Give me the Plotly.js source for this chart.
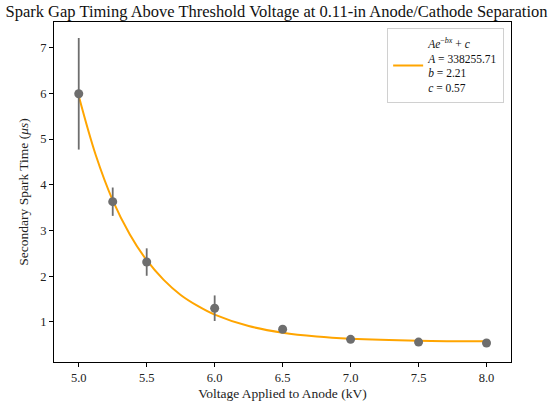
<!DOCTYPE html>
<html>
<head>
<meta charset="utf-8">
<script src="https://cdn.plot.ly/plotly-3.0.1.min.js"></script>
<style>html,body{margin:0;padding:0;background:#fff;}#plot{width:553px;height:409px;}</style>
</head>
<body>
<div id="plot"></div>
<script>
// Measured points
const voltage = [5.0, 5.25, 5.5, 6.0, 6.5, 7.0, 7.5, 8.0];
const sparkTime = [5.99, 3.63, 2.31, 1.30, 0.84, 0.62, 0.56, 0.54];
const sparkErr = [1.22, 0.31, 0.30, 0.28, 0.04, 0.03, 0.03, 0.03];

// Fit curve
const fitX = [5.0, 5.125, 5.25, 5.375, 5.5, 5.625, 5.75, 5.875, 6.0, 6.25, 6.5, 6.75, 7.0, 7.5, 8.0];
const fitY = [5.94, 4.65, 3.66, 2.92, 2.35, 1.92, 1.59, 1.35, 1.16, 0.91, 0.765, 0.682, 0.635, 0.591, 0.577];

const fitLabel = '<i>Ae</i><sup>−<i>bx</i></sup> + <i>c</i><br><i>A</i> = 338255.71<br><i>b</i> = 2.21<br><i>c</i> = 0.57';

const xTicks = [5.0, 5.5, 6.0, 6.5, 7.0, 7.5, 8.0];
const xTickText = ['5.0', '5.5', '6.0', '6.5', '7.0', '7.5', '8.0'];
const yTicks = [1, 2, 3, 4, 5, 6, 7];

const FONT = 'Liberation Serif, DejaVu Serif, serif';

const traces = [
  {
    x: fitX, y: fitY, mode: 'lines', type: 'scatter',
    line: {color: '#FFA500', width: 2, shape: 'spline'},
    name: fitLabel, showlegend: true, hoverinfo: 'skip'
  },
  {
    x: voltage, y: sparkTime, mode: 'markers', type: 'scatter',
    marker: {color: '#6e6e6e', size: 9},
    error_y: {type: 'data', array: sparkErr, visible: true, color: '#6e6e6e', thickness: 1.8, width: 0},
    showlegend: false
  }
];

const layout = {
  width: 553, height: 409,
  margin: {l: 54, r: 42, t: 22, b: 47},
  paper_bgcolor: '#fff', plot_bgcolor: '#fff',
  font: {family: FONT, color: '#222', size: 12},
  title: {text: 'Spark Gap Timing Above Threshold Voltage at 0.11-in Anode/Cathode Separation',
          font: {family: FONT, size: 16.5, color: '#111'}, x: 0.5, xref: 'container', xanchor: 'center', y: 0.972, yanchor: 'middle'},
  xaxis: {
    range: [4.818, 8.18], tickvals: xTicks, ticktext: xTickText,
    showgrid: false, zeroline: false, showline: true, linecolor: '#000', linewidth: 1, mirror: true,
    ticks: 'outside', ticklen: 4, tickcolor: '#000', tickwidth: 1,
    tickfont: {family: FONT, size: 12.5, color: '#222'},
    title: {text: 'Voltage Applied to Anode (kV)', font: {family: FONT, size: 13.5, color: '#222'}, standoff: 4}
  },
  yaxis: {
    range: [0.124, 7.56], tickvals: yTicks,
    showgrid: false, zeroline: false, showline: true, linecolor: '#000', linewidth: 1, mirror: true,
    ticks: 'outside', ticklen: 4, tickcolor: '#000', tickwidth: 1,
    tickfont: {family: FONT, size: 12.5, color: '#222'},
    title: {text: 'Secondary Spark Time (<i>μs</i>)', font: {family: FONT, size: 13.5, color: '#222'}, standoff: 8}
  },
  legend: {
    x: 0.985, xanchor: 'right', y: 0.982, yanchor: 'top',
    bgcolor: '#fff', bordercolor: '#d0d0d0', borderwidth: 1,
    font: {family: FONT, size: 11.5, color: '#111'}
  },
  showlegend: true
};

Plotly.newPlot('plot', traces, layout, {displayModeBar: false, staticPlot: true});
</script>
</body>
</html>
